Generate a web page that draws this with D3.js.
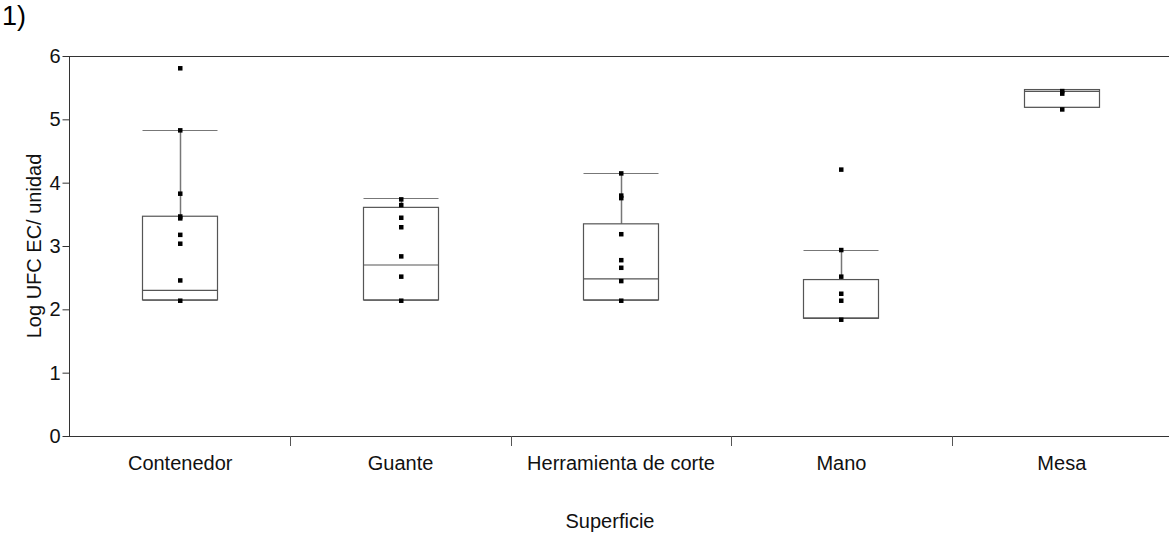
<!DOCTYPE html>
<html>
<head>
<meta charset="utf-8">
<script src="https://cdn.jsdelivr.net/npm/d3@7"></script>
<style>
  html, body { margin: 0; padding: 0; background: #fff; }
  svg { display: block; font-family: "Liberation Sans", Arial, sans-serif; }
</style>
</head>
<body>
<svg id="chart" width="1169" height="536"></svg>
<script>
// Surfaces sampled
const categories = ["Contenedor", "Guante", "Herramienta de corte", "Mano", "Mesa"];

// Box summaries (log CFU per unit)
const q1Values      = [2.15, 2.15, 2.15, 1.86, 5.19];
const medianValues  = [2.30, 2.70, 2.48, 1.86, 5.44];
const q3Values      = [3.47, 3.61, 3.35, 2.47, 5.47];
const whiskerLow    = [2.15, 2.15, 2.15, 1.86, 5.19];
const whiskerHigh   = [4.83, 3.76, 4.15, 2.94, 5.47];

// Individual observations per surface
const pointsContenedor  = [5.81, 4.83, 3.83, 3.47, 3.44, 3.18, 3.04, 2.46, 2.14];
const pointsGuante      = [3.74, 3.65, 3.45, 3.30, 2.84, 2.52, 2.14];
const pointsHerramienta = [4.15, 3.80, 3.76, 3.19, 2.78, 2.66, 2.45, 2.14];
const pointsMano        = [4.21, 2.94, 2.52, 2.25, 2.14, 1.84];
const pointsMesa        = [5.45, 5.41, 5.16];
const pointSets = [pointsContenedor, pointsGuante, pointsHerramienta, pointsMano, pointsMesa];

const yTicks = [0, 1, 2, 3, 4, 5, 6];

(function draw() {
  const svg = d3.select("#chart");
  const W = 1169;
  const plotLeft = 69, plotTop = 56, plotBottom = 436, bandEnd = 1172;

  const x = d3.scaleBand().domain(categories).range([plotLeft + 1, bandEnd]).padding(0);
  const y = d3.scaleLinear().domain([0, 6]).range([plotBottom, plotTop]);

  const axisColor = "#333";
  const font = "Liberation Sans, Arial, sans-serif";
  const fs = 20;

  // Top frame line
  svg.append("line")
    .attr("x1", plotLeft).attr("x2", W).attr("y1", y(6) + 0.5).attr("y2", y(6) + 0.5)
    .attr("stroke", axisColor).attr("stroke-width", 1);

  // Y axis
  const yAxis = svg.append("g")
    .attr("transform", `translate(${plotLeft + 0.5},0)`)
    .call(d3.axisLeft(y).tickValues(yTicks).tickFormat(d3.format("d")).tickSize(7).tickPadding(2));
  yAxis.select(".domain").attr("stroke", axisColor).attr("d", `M0,${plotTop}V${plotBottom}`);
  yAxis.selectAll(".tick line").attr("stroke", axisColor);
  yAxis.selectAll(".tick text").attr("font-size", fs).attr("fill", "#111").attr("font-family", font);

  // X axis: baseline, category separators and labels
  svg.append("line")
    .attr("x1", plotLeft).attr("x2", W).attr("y1", plotBottom + 0.5).attr("y2", plotBottom + 0.5)
    .attr("stroke", axisColor).attr("stroke-width", 1);

  const xAxis = svg.append("g")
    .attr("transform", `translate(0,${plotBottom})`)
    .call(d3.axisBottom(x).tickSize(0).tickPadding(20));
  xAxis.select(".domain").remove();
  xAxis.selectAll(".tick text").attr("font-size", fs).attr("fill", "#111").attr("font-family", font);

  svg.append("g").selectAll("line")
    .data(categories.slice(1))
    .join("line")
    .attr("x1", d => Math.round(x(d)) + 0.5).attr("x2", d => Math.round(x(d)) + 0.5)
    .attr("y1", plotBottom).attr("y2", plotBottom + 10)
    .attr("stroke", "#555");

  // Boxes
  const boxW = 75;
  const boxes = svg.append("g");
  categories.forEach((c, i) => {
    const cx = Math.round(x(c) + x.bandwidth() / 2);
    const g = boxes.append("g");
    // whisker stems
    g.append("line")
      .attr("x1", cx + 0.5).attr("x2", cx + 0.5)
      .attr("y1", y(q3Values[i])).attr("y2", y(whiskerHigh[i]))
      .attr("stroke", "#777").attr("stroke-width", 1.5);
    g.append("line")
      .attr("x1", cx + 0.5).attr("x2", cx + 0.5)
      .attr("y1", y(q1Values[i])).attr("y2", y(whiskerLow[i]))
      .attr("stroke", "#777").attr("stroke-width", 1.5);
    // caps
    [whiskerHigh[i], whiskerLow[i]].forEach(v => {
      g.append("line")
        .attr("x1", cx - boxW / 2).attr("x2", cx + boxW / 2)
        .attr("y1", Math.round(y(v)) + 0.5).attr("y2", Math.round(y(v)) + 0.5)
        .attr("stroke", "#777").attr("stroke-width", 1);
    });
    // box
    g.append("rect")
      .attr("x", cx - boxW / 2).attr("y", y(q3Values[i]))
      .attr("width", boxW).attr("height", y(q1Values[i]) - y(q3Values[i]))
      .attr("fill", "#fff").attr("stroke", "#555").attr("stroke-width", 1.2);
    // median
    g.append("line")
      .attr("x1", cx - boxW / 2).attr("x2", cx + boxW / 2)
      .attr("y1", y(medianValues[i])).attr("y2", y(medianValues[i]))
      .attr("stroke", "#555").attr("stroke-width", 1.2);
    // observations
    g.selectAll("rect.pt")
      .data(pointSets[i])
      .join("rect")
      .attr("class", "pt")
      .attr("x", cx - 2).attr("y", d => y(d) - 2)
      .attr("width", 4.5).attr("height", 4.5)
      .attr("fill", "#000");
  });

  // Titles
  svg.append("text")
    .attr("x", 2).attr("y", 25)
    .attr("font-size", 27).attr("fill", "#000")
    .text("1)");

  svg.append("text")
    .attr("transform", `translate(41,${(plotTop + plotBottom) / 2 + 0}) rotate(-90)`)
    .attr("text-anchor", "middle")
    .attr("font-size", fs).attr("fill", "#111")
    .text("Log UFC EC/ unidad");

  svg.append("text")
    .attr("x", 610).attr("y", 528)
    .attr("text-anchor", "middle")
    .attr("font-size", fs).attr("fill", "#111")
    .text("Superficie");
})();
</script>
</body>
</html>
